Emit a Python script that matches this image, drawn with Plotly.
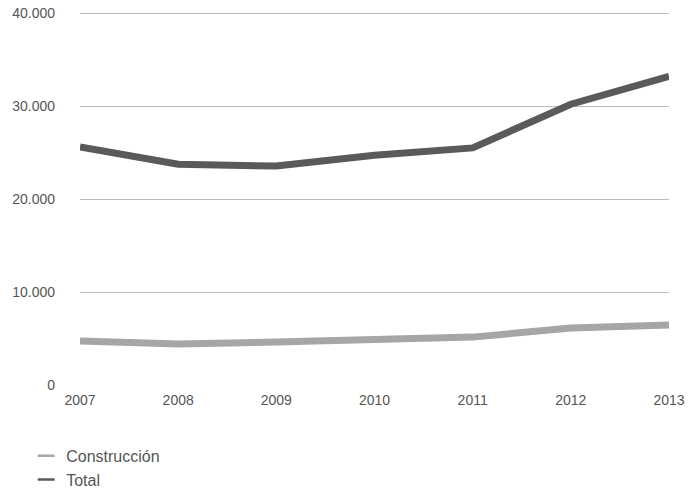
import plotly.graph_objects as go

years = [2007, 2008, 2009, 2010, 2011, 2012, 2013]
construccion = [4730, 4420, 4620, 4840, 5150, 6130, 6450]
total = [25600, 23750, 23550, 24700, 25500, 30200, 33200]

c_light = "#a6a6a6"
c_dark = "#5a5a5a"
font_family = "Liberation Sans, Arial, sans-serif"

fig = go.Figure()

# Data lines
fig.add_trace(go.Scatter(x=years, y=construccion, mode="lines", name="Construcción",
                         line=dict(color=c_light, width=7), showlegend=False))
fig.add_trace(go.Scatter(x=years, y=total, mode="lines", name="Total",
                         line=dict(color=c_dark, width=7), showlegend=False))

# Legend entries with short dash symbols
for name, col in [("Construcción", c_light), ("Total", c_dark)]:
    fig.add_trace(go.Scatter(x=[None], y=[None], mode="markers", name=name,
                             marker=dict(symbol="line-ew-open", size=12, color=col,
                                         line=dict(color=col, width=2.5))))

fig.update_layout(
    width=689, height=493,
    margin=dict(l=80, r=20, t=12, b=108, autoexpand=False),
    paper_bgcolor="white", plot_bgcolor="white",
    separators=",.",
    font=dict(family=font_family, color="#555555", size=14),
    xaxis=dict(range=[2007, 2013], tickvals=years, showgrid=False, zeroline=False,
               showline=False, ticks="", tickfont=dict(size=14), fixedrange=True,
               ticklabelstandoff=5),
    yaxis=dict(range=[0, 40120], tickvals=[0, 10000, 20000, 30000, 40000],
               tickformat=",d", showgrid=True, gridcolor="#bdbdbd", gridwidth=1,
               zeroline=True, zerolinecolor="rgba(0,0,0,0)", showline=False,
               ticks="", ticklabelstandoff=24, tickfont=dict(size=14)),
    legend=dict(xref="container", yref="container", x=0.038, y=0.110,
                xanchor="left", yanchor="top",
                font=dict(size=16, color="#555555"), tracegroupgap=0,
                bgcolor="rgba(0,0,0,0)", itemwidth=30),
)

fig.write_html("out.html")
